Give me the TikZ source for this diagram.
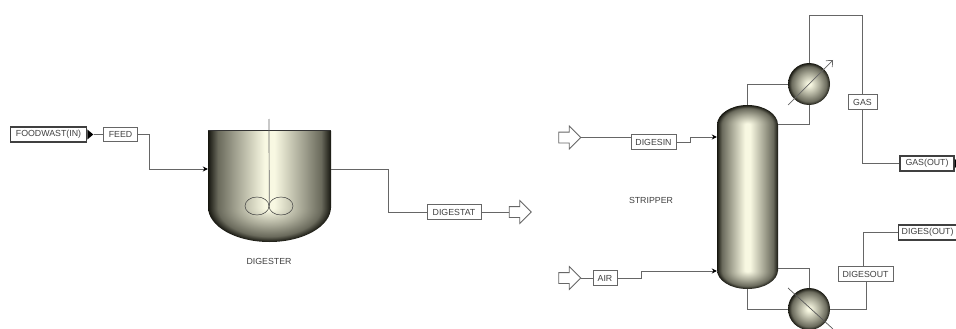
\documentclass[tikz,border=0pt]{standalone}
\usepackage{fontspec}
\setmainfont{Liberation Sans}
\usepackage{xcolor}
\usepackage{tikz}
\usetikzlibrary{arrows.meta,positioning,shapes.geometric,shapes.arrows,calc}
\definecolor{streamgray}{HTML}{666666}
\definecolor{labelgray}{HTML}{404040}
\definecolor{vesselA}{HTML}{16160F}
\definecolor{vesselB}{HTML}{6A6A5C}
\definecolor{vesselC}{HTML}{A8A896}
\definecolor{vesselD}{HTML}{F8F8E2}
\pgfdeclarehorizontalshading{vesselside}{100bp}{color(0bp)=(vesselA); color(25bp)=(vesselA); color(29bp)=(vesselB); color(37bp)=(vesselC); color(48bp)=(vesselD); color(52bp)=(vesselD); color(63bp)=(vesselC); color(71bp)=(vesselB); color(75bp)=(vesselA); color(100bp)=(vesselA)}
\pgfdeclareradialshading{vesselcap}{\pgfpoint{0bp}{0bp}}{color(0bp)=(vesselD); color(2bp)=(vesselD); color(13bp)=(vesselC); color(21bp)=(vesselB); color(25bp)=(vesselA); color(50bp)=(vesselA)}

\begin{document}
\begin{tikzpicture}[
  x=1pt, y=-1pt,
  font=\fontsize{8.8}{10}\selectfont,
  text=labelgray,
  stream/.style={draw=streamgray, line width=.9pt},
  feedline/.style={stream, -{Stealth[length=5pt,width=5pt,color=black]}},
  tag/.style={draw=streamgray, fill=white, line width=.8pt, inner sep=0pt, minimum height=14.5pt, minimum width=#1},
  port/.style={draw=black!75, fill=white, line width=1.2pt, inner sep=0pt, minimum height=15pt, minimum width=#1},
  porttip/.style={isosceles triangle, isosceles triangle apex angle=80, fill=black, inner sep=0pt, minimum height=6pt, minimum width=9pt},
  blockarrow/.style={single arrow, draw=streamgray, fill=white, line width=.8pt, inner xsep=0pt, inner ysep=5pt, minimum height=22pt, single arrow head extend=6pt, single arrow tip angle=90},
  vessel/.style={rectangle, shade, shading=vesselside, inner sep=0pt, minimum width=#1},
  sphere/.style={circle, shade, shading=vesselcap, inner sep=0pt, minimum size=42pt}]
\useasboundingbox (0,0) rectangle (956,329);

% digester
\node[vessel=123pt, minimum height=76pt] (digester) at (269.5,169) {};
\begin{scope}
\clip (208,207) rectangle (331,243);
\shade[shading=vesselcap] (269.5,207) ellipse [x radius=61.5, y radius=35];
\end{scope}
\draw[line width=1.1pt, black!80] (digester.north west) -- (digester.north east);
\coordinate (shaft) at (269,119);
\node[ellipse, draw=black!75, line width=.5pt, inner sep=0pt, minimum width=24pt, minimum height=18pt] (bladeL) at (257,206) {};
\node[ellipse, draw=black!75, line width=.5pt, inner sep=0pt, minimum width=24pt, minimum height=18pt] (bladeR) at (281,206) {};
\draw[black!60, line width=.7pt] (shaft) -- (bladeL.east);
\node (diglabel) at (269,261) {DIGESTER};

% stripper column
\node[vessel=61pt, minimum height=145pt] (column) at (747.5,197.5) {};
\begin{scope}
\clip (717,104) rectangle (778,125);
\shade[shading=vesselcap] (747.5,125) ellipse [x radius=30.5, y radius=20];
\end{scope}
\begin{scope}
\clip (717,270) rectangle (778,290);
\shade[shading=vesselcap] (747.5,270) ellipse [x radius=30.5, y radius=19];
\end{scope}
\coordinate (coltop) at (747.5,105);
\coordinate (colbot) at (747.5,289);
\node (striplabel) at (651,200) {STRIPPER};
\node[sphere] (cond) at (809,84) {};
\node[sphere] (reb) at (809,309) {};

% streams left
\node[port=76pt] (foodin) at (48.5,134.5) {FOODWAST(IN)};
\node[porttip, right=0pt of foodin] (foodtip) {};
\node[tag=34pt] (feed) at (120.5,134.5) {FEED};
\draw[stream] (foodtip.east) -- (feed.west);
\draw[feedline] (feed.east) -| (149,169) -- (digester.west);
\node[tag=54pt] (digestat) at (454,212) {DIGESTAT};
\node[blockarrow] (digout) at (517.5,212) {};
\draw[stream] (digester.east) -| (388,212) -- (digestat.west);
\draw[stream] (digestat.east) -- (digout.west);

% streams right
\node[blockarrow] (digin) at (567,137.5) {};
\node[tag=45pt] (digesin) at (653.5,142) {DIGESIN};
\draw[stream] (digin.east) -- (digin.east -| digesin.west);
\draw[feedline] (digesin.east) -| (690,137) -- (column.west |- 0,137);
\node[blockarrow] (airin) at (567,278) {};
\node[tag=24pt] (air) at (605,278) {AIR};
\draw[stream] (airin.east) -- (air.west);
\draw[feedline] (air.east) -| (641,271) -- (column.west |- 0,271);

\draw[stream] (coltop) |- (cond.west);
\draw[stream] (column.east |- 0,124) -| (cond.south);
\draw[stream] (column.east |- 0,268) -| (reb.north);
\draw[stream] (colbot) |- (reb.west);
\draw[streamgray, line width=.7pt, -{Straight Barb[length=5pt,width=9pt]}] (788,105) -- (833,60);
\draw[black!65, line width=.7pt] (788,288) -- (833,329);

\node[tag=29pt] (gas) at (862.5,102) {GAS};
\node[port=54pt] (gasout) at (927,163.5) {GAS(OUT)};
\node[porttip, right=0pt of gasout, minimum height=3pt] (gastip) {};
\draw[stream] (cond.north) |- (gas.north |- 0,15) -- (gas.north);
\draw[stream] (gas.south) |- (gasout.west);
\node[tag=55pt] (digesout) at (865.5,274) {DIGESOUT};
\node[port=58pt, anchor=west] (digesoutp) at (898,232.5) {DIGES(OUT)};
\draw[stream] (reb.east) -| (866,281.25);
\draw[stream] (863,266.75) |- (digesoutp.west);
\end{tikzpicture}
\end{document}
